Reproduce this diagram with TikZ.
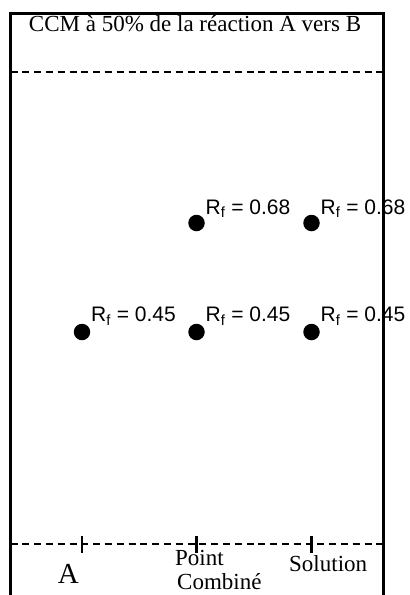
\documentclass[tikz,border=0pt]{standalone}
\usepackage{fontspec}
\setmainfont{Liberation Serif}
\newfontfamily\rfsans{Liberation Sans}
\begin{document}
\begin{tikzpicture}[x=1pt,y=-1pt,
  spot/.style={circle,fill=black,inner sep=0pt,minimum size=16.5pt},
  rflabel/.style={anchor=base west,inner sep=0pt,font=\rfsans\fontsize{21}{24}\selectfont},
  serlabel/.style={inner sep=0pt,font=\fontsize{23}{27}\selectfont},
  frameline/.style={line width=3pt},
  dashline/.style={line width=2.4pt,dash pattern=on 7pt off 4.8pt},
  tickline/.style={line width=2.2pt}]
\useasboundingbox (0,0) rectangle (410,595);
% frame
\coordinate (fbl) at (10.5,596);
\coordinate (ftl) at (10.5,13);
\coordinate (ftr) at (383.5,13);
\coordinate (fbr) at (383.5,596);
\draw[frameline] (fbl) -- (ftl) -- (ftr) -- (fbr);
% title
\node[serlabel,anchor=base] (title) at (195,31.7) {CCM à 50\% de la réaction A vers B};
% dashed lines
\coordinate (tl) at (10.5,72);
\coordinate (tr) at (383.5,72);
\draw[dashline] (tl) -- (tr);
\coordinate (bl) at (10.5,544);
\coordinate (br) at (383.5,544);
\draw[dashline] (bl) -- (br);
% ticks
\foreach \n/\x in {ta/82,tb/196.5,tc/311.5}{
  \coordinate (\n1) at (\x,536);
  \coordinate (\n2) at (\x,553);
  \draw[tickline] (\n1) -- (\n2);
}
% spots
\node[spot] (a1) at (82,332) {};
\node[spot] (b1) at (196.5,332) {};
\node[spot] (b2) at (196.5,223) {};
\node[spot] (c1) at (311.5,332) {};
\node[spot] (c2) at (311.5,223) {};
% labels
\node[rflabel] (la1) at (91,321.7) {R\textsubscript{f} = 0.45};
\node[rflabel] (lb1) at (205.5,321.7) {R\textsubscript{f} = 0.45};
\node[rflabel] (lc1) at (320.5,321.7) {R\textsubscript{f} = 0.45};
\node[rflabel] (lb2) at (205.5,214) {R\textsubscript{f} = 0.68};
\node[rflabel] (lc2) at (320.5,214) {R\textsubscript{f} = 0.68};
% bottom labels
\node[inner sep=0pt,anchor=base,font=\fontsize{29}{32}\selectfont] (la) at (68.3,583.5) {A};
\node[serlabel,anchor=base west] (lp) at (175,565) {Point};
\node[serlabel,anchor=base west] (lcomb) at (177,589.5) {Combiné};
\node[serlabel,anchor=base west] (lsol) at (289,571.7) {Solution};
\end{tikzpicture}
\end{document}
